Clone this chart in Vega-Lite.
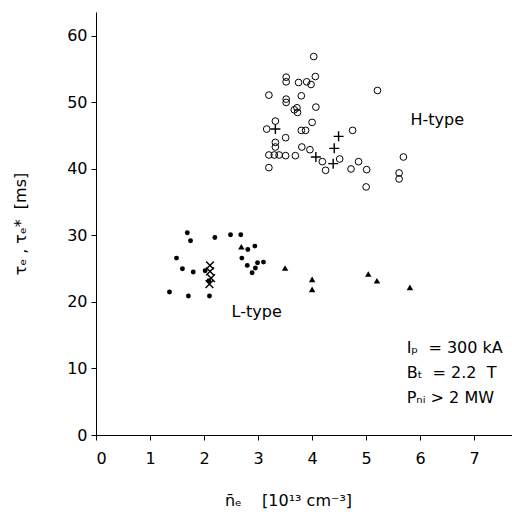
{
  "$schema": "https://vega.github.io/schema/vega-lite/v6.json",
  "width": 416,
  "height": 423,
  "autosize": {"type": "none"},
  "padding": {"left": 96, "top": 12, "right": 0, "bottom": 83},
  "background": "white",
  "config": {
    "view": {"stroke": null},
    "font": "DejaVu Sans",
    "axis": {
      "grid": false,
      "domainColor": "black",
      "domainWidth": 1,
      "tickColor": "black",
      "tickSize": 5,
      "labelColor": "black",
      "labelFont": "DejaVu Sans",
      "labelFontSize": 16,
      "titleFont": "DejaVu Sans",
      "titleFontSize": 16,
      "titleFontWeight": "normal",
      "titleColor": "black"
    }
  },
  "datasets": {
    "pts": [
      {"n": 4.03, "tau": 56.9, "kind": "H"},
      {"n": 3.52, "tau": 53.8, "kind": "H"},
      {"n": 3.52, "tau": 53.1, "kind": "H"},
      {"n": 4.06, "tau": 53.9, "kind": "H"},
      {"n": 3.75, "tau": 53.0, "kind": "H"},
      {"n": 3.9, "tau": 53.1, "kind": "H"},
      {"n": 3.98, "tau": 52.7, "kind": "H"},
      {"n": 3.2, "tau": 51.1, "kind": "H"},
      {"n": 3.8, "tau": 51.0, "kind": "H"},
      {"n": 3.52, "tau": 50.5, "kind": "H"},
      {"n": 3.52, "tau": 50.0, "kind": "H"},
      {"n": 5.21, "tau": 51.8, "kind": "H"},
      {"n": 4.07, "tau": 49.3, "kind": "H"},
      {"n": 3.72, "tau": 49.2, "kind": "H"},
      {"n": 3.67, "tau": 48.9, "kind": "H"},
      {"n": 3.73, "tau": 48.5, "kind": "H"},
      {"n": 3.32, "tau": 47.2, "kind": "H"},
      {"n": 4.0, "tau": 47.0, "kind": "H"},
      {"n": 3.16, "tau": 46.0, "kind": "H"},
      {"n": 3.8, "tau": 45.8, "kind": "H"},
      {"n": 3.88, "tau": 45.8, "kind": "H"},
      {"n": 4.75, "tau": 45.8, "kind": "H"},
      {"n": 3.51, "tau": 44.7, "kind": "H"},
      {"n": 3.32, "tau": 44.0, "kind": "H"},
      {"n": 3.32, "tau": 43.3, "kind": "H"},
      {"n": 3.81, "tau": 43.3, "kind": "H"},
      {"n": 3.96, "tau": 42.9, "kind": "H"},
      {"n": 3.2, "tau": 42.1, "kind": "H"},
      {"n": 3.3, "tau": 42.1, "kind": "H"},
      {"n": 3.39, "tau": 42.1, "kind": "H"},
      {"n": 3.51, "tau": 42.0, "kind": "H"},
      {"n": 3.69, "tau": 42.0, "kind": "H"},
      {"n": 4.19, "tau": 41.1, "kind": "H"},
      {"n": 4.51, "tau": 41.5, "kind": "H"},
      {"n": 4.86, "tau": 41.1, "kind": "H"},
      {"n": 5.69, "tau": 41.8, "kind": "H"},
      {"n": 3.2, "tau": 40.2, "kind": "H"},
      {"n": 4.25, "tau": 39.8, "kind": "H"},
      {"n": 4.72, "tau": 40.0, "kind": "H"},
      {"n": 5.01, "tau": 39.9, "kind": "H"},
      {"n": 5.61, "tau": 39.4, "kind": "H"},
      {"n": 5.61, "tau": 38.5, "kind": "H"},
      {"n": 5.0, "tau": 37.3, "kind": "H"},
      {"n": 3.32, "tau": 46.0, "kind": "Hplus"},
      {"n": 4.49, "tau": 44.9, "kind": "Hplus"},
      {"n": 4.41, "tau": 43.1, "kind": "Hplus"},
      {"n": 4.07, "tau": 41.8, "kind": "Hplus"},
      {"n": 4.39, "tau": 40.8, "kind": "Hplus"},
      {"n": 1.69, "tau": 30.4, "kind": "L"},
      {"n": 1.75, "tau": 29.2, "kind": "L"},
      {"n": 2.2, "tau": 29.7, "kind": "L"},
      {"n": 2.49, "tau": 30.1, "kind": "L"},
      {"n": 2.68, "tau": 30.1, "kind": "L"},
      {"n": 2.81, "tau": 27.9, "kind": "L"},
      {"n": 2.94, "tau": 28.4, "kind": "L"},
      {"n": 1.49, "tau": 26.6, "kind": "L"},
      {"n": 2.7, "tau": 26.6, "kind": "L"},
      {"n": 1.6, "tau": 25.0, "kind": "L"},
      {"n": 1.8, "tau": 24.5, "kind": "L"},
      {"n": 2.02, "tau": 24.7, "kind": "L"},
      {"n": 2.8, "tau": 25.5, "kind": "L"},
      {"n": 2.99, "tau": 25.9, "kind": "L"},
      {"n": 3.1, "tau": 26.0, "kind": "L"},
      {"n": 2.95, "tau": 25.1, "kind": "L"},
      {"n": 2.89, "tau": 24.4, "kind": "L"},
      {"n": 2.09, "tau": 23.2, "kind": "L"},
      {"n": 1.36, "tau": 21.5, "kind": "L"},
      {"n": 1.71, "tau": 20.9, "kind": "L"},
      {"n": 2.1, "tau": 20.9, "kind": "L"},
      {"n": 2.11, "tau": 25.5, "kind": "Lx"},
      {"n": 2.11, "tau": 24.6, "kind": "Lx"},
      {"n": 2.13, "tau": 23.6, "kind": "Lx"},
      {"n": 2.1, "tau": 22.7, "kind": "Lx"},
      {"n": 2.69, "tau": 28.3, "kind": "Ltri"},
      {"n": 3.5, "tau": 25.1, "kind": "Ltri"},
      {"n": 4.0, "tau": 23.4, "kind": "Ltri"},
      {"n": 4.0, "tau": 21.9, "kind": "Ltri"},
      {"n": 5.04, "tau": 24.2, "kind": "Ltri"},
      {"n": 5.2, "tau": 23.2, "kind": "Ltri"},
      {"n": 5.81, "tau": 22.2, "kind": "Ltri"}
    ]
  },
  "encoding": {
    "x": {
      "field": "n", "type": "quantitative",
      "scale": {"domain": [0, 7.7], "nice": false, "zero": false},
      "axis": {
        "values": [0, 1, 2, 3, 4, 5, 6, 7],
        "format": "d",
        "labelPadding": 10,
        "title": "n̄ₑ\u00a0\u00a0\u00a0\u00a0[10¹³\u00a0cm⁻³]",
        "titleX": 192,
        "titleY": 70,
        "titleAlign": "center",
        "titleBaseline": "alphabetic"
      }
    },
    "y": {
      "field": "tau", "type": "quantitative",
      "scale": {"domain": [0, 63.6], "nice": false, "zero": false},
      "axis": {
        "values": [0, 10, 20, 30, 40, 50, 60],
        "labelPadding": 4,
        "title": "τₑ\u00a0,\u00a0τₑ*\u00a0\u00a0[ms]",
        "titlePadding": 38,
        "encode": {"title": {"update": {"y": {"value": 260}}}}
      }
    }
  },
  "layer": [
    {
      "data": {"name": "pts"},
      "transform": [{"filter": "datum.kind == 'H'"}],
      "mark": {"type": "point", "shape": "circle", "size": 45, "filled": false, "stroke": "black", "strokeWidth": 1, "opacity": 1}
    },
    {
      "data": {"name": "pts"},
      "transform": [{"filter": "datum.kind == 'Hplus'"}],
      "mark": {"type": "point", "shape": "M-1,0L1,0M0,-1L0,1", "size": 100, "filled": false, "stroke": "black", "strokeWidth": 1.4, "opacity": 1}
    },
    {
      "data": {"name": "pts"},
      "transform": [{"filter": "datum.kind == 'L'"}],
      "mark": {"type": "point", "shape": "circle", "size": 24, "filled": true, "fill": "black", "strokeWidth": 0, "opacity": 1}
    },
    {
      "data": {"name": "pts"},
      "transform": [{"filter": "datum.kind == 'Lx'"}],
      "mark": {"type": "point", "shape": "M-1,-1L1,1M-1,1L1,-1", "size": 60, "filled": false, "stroke": "black", "strokeWidth": 1.4, "opacity": 1}
    },
    {
      "data": {"name": "pts"},
      "transform": [{"filter": "datum.kind == 'Ltri'"}],
      "mark": {"type": "point", "shape": "triangle-up", "size": 42, "filled": true, "fill": "black", "strokeWidth": 0, "opacity": 1}
    },
    {
      "data": {"values": [{"n": 5.82, "tau": 46.6, "label": "H-type"}]},
      "mark": {"type": "text", "align": "left", "baseline": "alphabetic", "fontSize": 16, "font": "DejaVu Sans", "fill": "black"},
      "encoding": {"text": {"field": "label"}}
    },
    {
      "data": {"values": [{"n": 2.51, "tau": 17.8, "label": "L-type"}]},
      "mark": {"type": "text", "align": "left", "baseline": "alphabetic", "fontSize": 16, "font": "DejaVu Sans", "fill": "black"},
      "encoding": {"text": {"field": "label"}}
    },
    {
      "data": {"values": [
        {"n": 5.75, "tau": 12.3, "label": "Iₚ\u00a0\u00a0= 300\u00a0kA"},
        {"n": 5.75, "tau": 8.5, "label": "Bₜ\u00a0\u00a0= 2.2\u00a0\u00a0T"},
        {"n": 5.75, "tau": 4.75, "label": "Pₙᵢ > 2 MW"}
      ]},
      "mark": {"type": "text", "align": "left", "baseline": "alphabetic", "fontSize": 16, "font": "DejaVu Sans", "fill": "black"},
      "encoding": {"text": {"field": "label"}}
    }
  ]
}
